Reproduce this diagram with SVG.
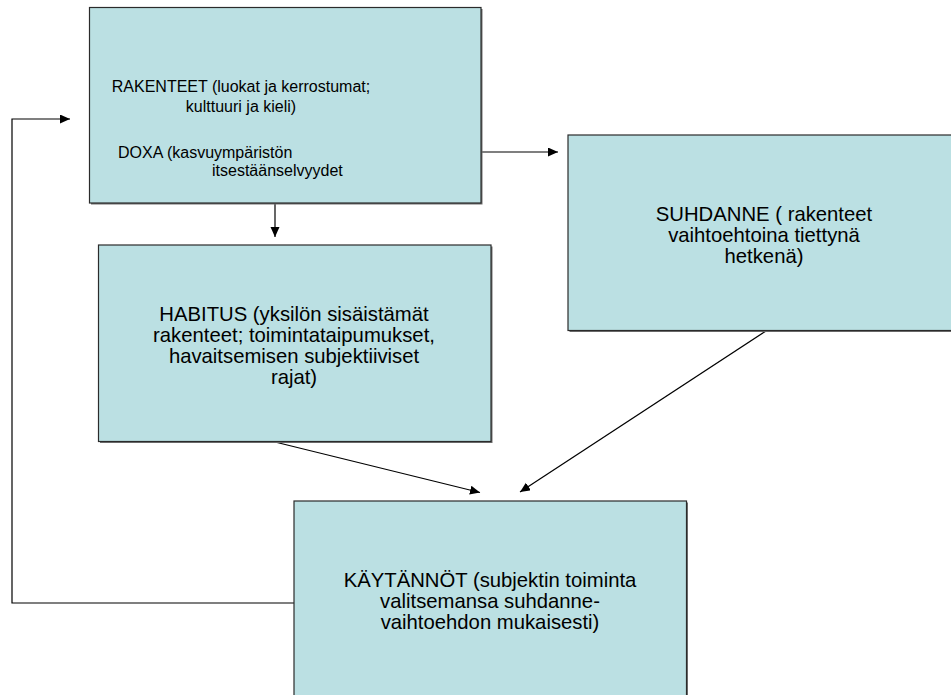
<svg xmlns="http://www.w3.org/2000/svg" width="951" height="695" viewBox="0 0 951 695">
<defs>
<marker id="arr" markerUnits="userSpaceOnUse" markerWidth="12" markerHeight="10" refX="10" refY="4.5" orient="auto">
<path d="M0,0 L10,4.5 L0,9 Z" fill="#000"/>
</marker>
<style>
.box{fill:#BBE0E3;stroke:#2b2b2b;stroke-width:1.2}
.shadow{fill:#6f6f6f}
.t{font-family:"Liberation Sans",Arial,sans-serif;fill:#000}
.t16{font-size:16px}
.t19{font-size:20.3px}
.c{text-anchor:middle}
.con{fill:none;stroke:#000;stroke-width:1.2}
</style>
</defs>
<rect x="0" y="0" width="951" height="695" fill="#fff"/>
<g id="connectors">
<line class="con" x1="275" y1="203" x2="275" y2="237" marker-end="url(#arr)"/>
<line class="con" x1="481" y1="152" x2="558" y2="152" marker-end="url(#arr)"/>
<line class="con" x1="275" y1="442" x2="480" y2="492.5" marker-end="url(#arr)"/>
<line class="con" x1="766" y1="331" x2="520" y2="492" marker-end="url(#arr)"/>
<polyline class="con" points="294,603 12,603 12,119 70,119" marker-end="url(#arr)"/>
</g>
<g id="rakenteet">
<rect class="shadow" x="91" y="9" width="391.5" height="195.5"/>
<rect class="box" x="89.5" y="7.5" width="391.5" height="195.5"/>
<text class="t t16 c" x="241" y="92">RAKENTEET (luokat ja kerrostumat;</text>
<text class="t t16 c" x="241" y="112">kulttuuri ja kieli)</text>
<text class="t t16" x="118" y="158">DOXA (kasvuympäristön</text>
<text class="t t16" x="212" y="176">itsestäänselvyydet</text>
</g>
<g id="habitus">
<rect class="shadow" x="100" y="246.5" width="392.5" height="196.5"/>
<rect class="box" x="98.5" y="245" width="392.5" height="196.5"/>
<text class="t t19 c" x="294" y="321">HABITUS (yksilön sisäistämät</text>
<text class="t t19 c" x="294" y="342">rakenteet; toimintataipumukset,</text>
<text class="t t19 c" x="294" y="363">havaitsemisen subjektiiviset</text>
<text class="t t19 c" x="294" y="384">rajat)</text>
</g>
<g id="suhdanne">
<rect class="shadow" x="569.5" y="136.5" width="395" height="195.5"/>
<rect class="box" x="568" y="135" width="395" height="195.5"/>
<text class="t t19 c" x="764" y="221">SUHDANNE ( rakenteet</text>
<text class="t t19 c" x="764" y="242">vaihtoehtoina tiettynä</text>
<text class="t t19 c" x="764" y="263">hetkenä)</text>
</g>
<g id="kaytannot">
<rect class="shadow" x="295.5" y="502.5" width="392.5" height="210"/>
<rect class="box" x="294" y="501" width="392.5" height="210"/>
<text class="t t19 c" x="490" y="587">KÄYTÄNNÖT (subjektin toiminta</text>
<text class="t t19 c" x="490" y="608">valitsemansa suhdanne-</text>
<text class="t t19 c" x="490" y="629">vaihtoehdon mukaisesti)</text>
</g>
</svg>
